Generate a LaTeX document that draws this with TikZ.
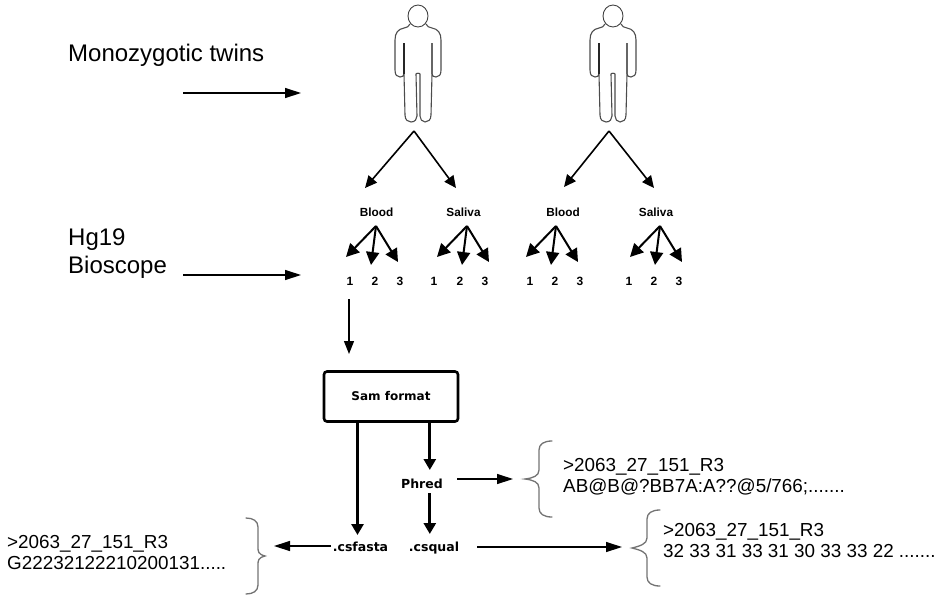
\documentclass[tikz,border=0pt]{standalone}
\usepackage{fontspec}
\setmainfont{Liberation Sans}
\usetikzlibrary{arrows.meta}
\tikzset{
  x=1pt,y=1pt,
  arr/.style={-{Triangle[length=12pt,width=11pt]},line width=1.6pt,black},
  thinarr/.style={-{Triangle[length=16pt,width=10pt]},line width=1.3pt,black},
  thickarr/.style={-{Triangle[length=11pt,width=12pt]},line width=3pt,black},
  medarr/.style={-{Triangle[length=13pt,width=13pt]},line width=2pt,black},
  lab/.style={inner sep=0pt,font=\fontsize{11.8}{13}\selectfont\bfseries,text=black},
  num/.style={inner sep=0pt,font=\fontsize{12}{14}\selectfont\bfseries,text=black},
  mono/.style={inner sep=0pt,anchor=base,font=\fontsize{12.5}{14}\fontspec{DejaVu Sans}\bfseries,text=black},
  big/.style={inner sep=0pt,align=left,anchor=west,font=\fontsize{24}{28}\selectfont,text=black},
  seq/.style={inner sep=0pt,align=left,anchor=west,font=\fontsize{18.85}{21}\selectfont,text=black},
  brace/.style={draw=black!55,line width=1.3pt,line cap=round},
  person/.pic={
    \draw[line width=0.9pt,draw=black!75] (0,-16) ellipse (10 and 11);
    \draw[line width=1.1pt,draw=black!70,line join=round]
      (-8,-24) .. controls (-9,-27) and (-11,-27) .. (-14,-28)
      .. controls (-20,-29) and (-23,-33) .. (-23,-40)
      -- (-23,-70) .. controls (-23,-75) and (-21,-77) .. (-18,-77)
      .. controls (-16,-77) and (-14,-76) .. (-14,-74)
      -- (-13,-115) .. controls (-13,-120) and (-10,-122) .. (-7,-122)
      .. controls (-3,-122) and (-1,-119) .. (-1,-116)
      -- (-2,-74) .. controls (-2,-73) and (2,-73) .. (2,-74)
      -- (2,-116) .. controls (2,-119) and (4,-122) .. (7,-122)
      .. controls (10,-122) and (13,-120) .. (13,-115)
      -- (14,-74) .. controls (14,-76) and (16,-77) .. (18,-77)
      .. controls (21,-77) and (23,-75) .. (23,-70)
      -- (23,-40) .. controls (23,-33) and (20,-29) .. (14,-28)
      .. controls (11,-27) and (9,-27) .. (8,-24);
    \draw[line width=1.1pt,draw=black!85] (-14,-43) -- (-14,-74);
    \draw[line width=1.1pt,draw=black!60] (14,-43) -- (14,-74);
  },
}
\begin{document}
\begin{tikzpicture}
\useasboundingbox (0,0) rectangle (948,-606);
% persons
\pic at (418,0) {person};
\pic at (613,0) {person};
% left labels
\node[big] (mz) at (68,-55) {Monozygotic twins};
\node[big] (hg) at (68,-253.5) {Hg19\\Bioscope};
\coordinate (a1s) at (183,-93); \coordinate (a1e) at (301,-93);
\draw[thinarr] (a1s) -- (a1e);
\coordinate (a2s) at (183,-275); \coordinate (a2e) at (301,-275);
\draw[thinarr] (a2s) -- (a2e);
% person branch points and arrow tips
\coordinate (p1) at (414,-131); \coordinate (p2) at (609,-131);
\coordinate (e1) at (365,-188); \coordinate (e2) at (456,-188);
\coordinate (e3) at (564,-187); \coordinate (e4) at (654,-188);
\draw[arr] (p1) -- (e1);
\draw[arr] (p1) -- (e2);
\draw[arr] (p2) -- (e3);
\draw[arr] (p2) -- (e4);
% sample labels
\node[lab] (b1) at (376.5,-212) {Blood};
\node[lab] (s1) at (463.5,-212) {Saliva};
\node[lab] (b2) at (563,-212) {Blood};
\node[lab] (s2) at (656,-212) {Saliva};
% replicate numbers
\foreach \n/\x/\v in {n1/350/1,n2/375/2,n3/400/3,n4/434/1,n5/460/2,n6/485/3,n7/530/1,n8/555/2,n9/580/3,n10/629/1,n11/654/2,n12/679/3}
  \node[num] (\n) at (\x,-281) {\v};
\coordinate (t1) at (376,-226); \coordinate (t2) at (467,-226);
\coordinate (t3) at (556,-226); \coordinate (t4) at (660,-226);
\foreach \t in {t1,t2,t3,t4}{
  \draw[medarr] (\t) -- ++(-30,-31);
  \draw[medarr] (\t) -- ++(-5,-39);
  \draw[medarr] (\t) -- ++(22,-36);
}
% sam
\node[draw=black,line width=2.6pt,rounded corners=3pt,minimum width=134pt,minimum height=50pt,inner sep=0pt,font=\fontsize{12}{14}\fontspec{DejaVu Sans}\bfseries] (sam) at (391,-396.5) {Sam format};
\coordinate (dn) at (349,-299);
\coordinate (dne) at (349,-354);
\draw[-{Triangle[length=13pt,width=10pt]},line width=1.3pt] (dn) -- (dne);
\node[mono] (ph) at (422,-488) {Phred};
\node[mono] (cf) at (360.5,-551) {.csfasta};
\node[mono] (cq) at (434,-551) {.csqual};
\coordinate (sa) at (357.5,-421); \coordinate (sb) at (429.8,-421);
\coordinate (ca) at (357.5,-535); \coordinate (pa) at (429.8,-470);
\coordinate (pb) at (429.8,-493); \coordinate (qa) at (429.8,-534);
\draw[thickarr] (sa) -- (ca);
\draw[thickarr] (sb) -- (pa);
\draw[thickarr] (pb) -- (qa);
% side arrows
\coordinate (phs) at (457,-479); \coordinate (phe) at (513,-479);
\draw[thinarr] (phs) -- (phe);
\coordinate (cfs) at (331,-546); \coordinate (cfe) at (274,-546);
\draw[thinarr] (cfs) -- (cfe);
\coordinate (cqs) at (477,-547); \coordinate (cqe) at (622,-547);
\draw[thinarr] (cqs) -- (cqe);
% braces
\draw[brace] (552,-441) .. controls (544,-441) and (539,-444) .. (539,-450)
  -- (539,-470) .. controls (539,-476) and (533,-478) .. (525,-479)
  .. controls (533,-480) and (539,-482) .. (539,-488)
  -- (539,-508) .. controls (539,-514) and (544,-517) .. (552,-517);
\draw[brace] (246,-518) .. controls (253,-518) and (258,-521) .. (258,-527)
  -- (258,-546) .. controls (258,-552) and (258,-554) .. (265,-556)
  .. controls (258,-558) and (258,-560) .. (258,-566)
  -- (258,-585) .. controls (258,-591) and (253,-594) .. (246,-594);
\draw[brace] (660,-510) .. controls (652,-510) and (647,-513) .. (647,-519)
  -- (647,-538) .. controls (647,-544) and (640,-546) .. (632,-548)
  .. controls (640,-550) and (647,-552) .. (647,-558)
  -- (647,-577) .. controls (647,-583) and (652,-586) .. (660,-586);
% sequences
\node[seq] (q1) at (563,-476.5) {>2063\_27\_151\_R3\\AB@B@?BB7A:A??@5/766;.......};
\node[seq] (q2) at (7,-552.5) {>2063\_27\_151\_R3\\G22232122210200131.....};
\node[seq] (q3) at (663,-541) {>2063\_27\_151\_R3\\32 33 31 33 31 30 33 33 22 .......};
\end{tikzpicture}
\end{document}
